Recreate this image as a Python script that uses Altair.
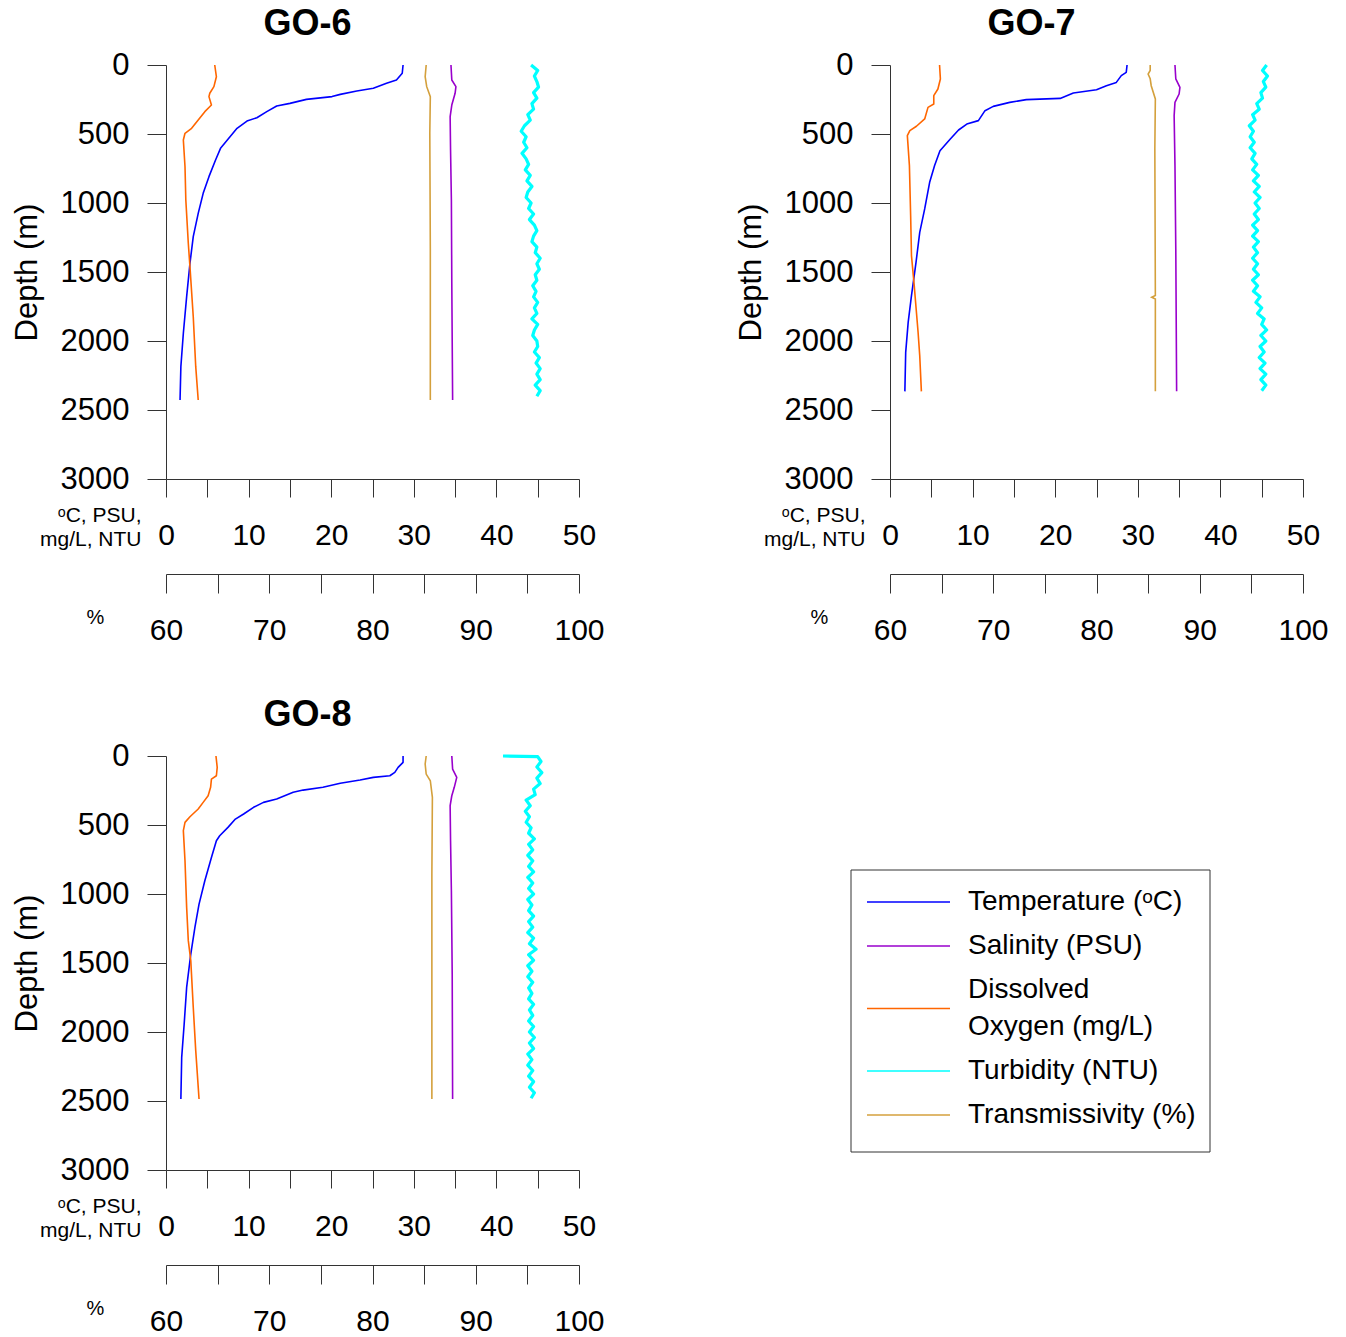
import altair as alt
import pandas as pd

FONT = "Liberation Sans"

TEMP = "Temperature (ᵒC)"
SAL = "Salinity (PSU)"
OXY = "Dissolved Oxygen (mg/L)"
TURB = "Turbidity (NTU)"
TRANS = "Transmissivity (%)"
SERIES = [TEMP, SAL, OXY, TURB, TRANS]
COLORS = ["#0000FF", "#9900CC", "#FF6600", "#00FFFF", "#D4A03C"]
LEGEND_LABELS = [["Temperature (ᵒC)"], ["Salinity (PSU)"], ["Dissolved", "Oxygen (mg/L)"],
                 ["Turbidity (NTU)"], ["Transmissivity (%)"]]

# ---------------- GO-6 ----------------
go6_temp_depth = [0, 60, 109, 133, 169, 188, 213, 229, 249, 278, 297, 338, 382, 406, 459, 538,
                  604, 688, 809, 930, 1075, 1244, 1437, 1679, 1944, 2186, 2428]
go6_temp = [28.7, 28.6, 27.9, 26.7, 25.1, 23.1, 21.1, 20.1, 17.0, 15.0, 13.4, 12.2, 11.0, 9.8, 8.6, 7.5,
            6.6, 6.0, 5.2, 4.5, 3.9, 3.3, 2.9, 2.5, 2.1, 1.8, 1.7]
go6_oxy_depth = [0, 85, 157, 205, 229, 290, 338, 399, 459, 495, 543, 736, 978, 1292, 1461, 1824, 2186, 2428]
go6_oxy = [5.9, 6.1, 5.8, 5.3, 5.2, 5.5, 4.7, 3.9, 3.1, 2.3, 2.1, 2.3, 2.4, 2.7, 2.9, 3.3, 3.6, 3.9]
go6_sal_depth = [0, 109, 157, 205, 290, 374, 616, 978, 1582, 2428]
go6_sal = [34.5, 34.6, 35.1, 35.0, 34.6, 34.4, 34.45, 34.55, 34.6, 34.7]
go6_trans_depth = [0, 85, 157, 229, 495, 1340, 2428]
go6_trans = [85.2, 85.1, 85.25, 85.6, 85.55, 85.6, 85.6]
go6_turb_depth = list(range(0, 2430, 40))
go6_turb = [44.2, 45.0, 44.6, 44.9, 45.1, 44.5, 44.9, 44.3, 44.5, 43.8, 44.1, 43.4, 43.0, 43.6, 43.3, 43.7,
            43.1, 43.6, 43.9, 43.5, 44.1, 43.7, 44.3, 43.8, 43.6, 44.2, 43.9, 44.5, 44.0, 44.6, 44.9, 44.5,
            44.3, 44.9, 44.7, 45.3, 44.9, 45.2, 44.7, 44.9, 44.4, 44.8, 44.5, 45.0, 44.6, 44.9, 44.3, 45.0,
            44.6, 44.4, 44.9, 45.0, 44.6, 45.2, 44.8, 45.3, 44.9, 45.3, 44.7, 45.3, 44.9]

# ---------------- GO-7 ----------------
go7_temp_depth = [0, 53, 77, 126, 150, 179, 203, 242, 251, 271, 300, 331, 403, 428, 471, 536, 621, 729,
                  850, 1043, 1213, 1430, 1671, 1865, 2082, 2365]
go7_temp = [28.7, 28.6, 28.0, 27.4, 26.2, 25.0, 22.2, 20.6, 16.5, 14.5, 12.5, 11.5, 10.7, 9.3, 8.3, 7.3,
            6.05, 5.4, 4.8, 4.2, 3.6, 3.15, 2.6, 2.2, 1.9, 1.8]
go7_oxy_depth = [0, 101, 174, 222, 283, 307, 391, 444, 476, 512, 729, 1092, 1381, 1575, 1937, 2106, 2365]
go7_oxy = [6.0, 6.1, 5.8, 5.3, 5.3, 4.6, 4.2, 3.2, 2.4, 2.1, 2.35, 2.5, 2.6, 2.9, 3.4, 3.6, 3.8]
go7_sal_depth = [0, 101, 162, 210, 271, 367, 729, 1333, 2365]
go7_sal = [34.5, 34.6, 35.1, 35.0, 34.5, 34.4, 34.5, 34.6, 34.7]
go7_trans_depth = [0, 40, 65, 100, 150, 246, 609, 1671, 1683, 1696, 2365]
go7_trans = [85.2, 85.2, 85.0, 85.2, 85.3, 85.7, 85.65, 85.7, 85.35, 85.7, 85.7]
go7_turb_depth = list(range(0, 2370, 40))
go7_turb = [45.6, 45.1, 45.7, 45.2, 45.5, 44.9, 45.1, 44.4, 44.7, 43.9, 44.2, 43.5, 44.0, 43.6, 44.1, 43.6,
            44.2, 43.8, 44.4, 43.9, 44.6, 44.0, 44.7, 44.1, 44.8, 44.2, 44.7, 44.1, 44.6, 43.9, 44.5, 43.9,
            44.6, 44.0, 44.5, 43.9, 44.5, 44.0, 44.6, 43.9, 44.5, 44.0, 44.8, 44.3, 45.0, 44.5, 45.3, 45.0,
            45.6, 44.9, 45.5, 44.8, 45.3, 44.7, 45.4, 44.8, 45.5, 44.9, 45.5, 45.0]

# ---------------- GO-8 ----------------
go8_temp_depth = [0, 46, 82, 119, 143, 155, 174, 198, 227, 247, 263, 312, 336, 372, 420, 457, 517, 578,
                  614, 735, 904, 1073, 1242, 1435, 1677, 1942, 2184, 2486]
go8_temp = [28.7, 28.7, 28.1, 27.7, 27.1, 25.1, 23.5, 21.1, 19.0, 16.6, 15.4, 13.4, 11.8, 10.6, 9.4, 8.4,
            7.5, 6.5, 6.1, 5.5, 4.7, 4.0, 3.5, 3.0, 2.5, 2.2, 1.9, 1.8]
go8_oxy_depth = [0, 82, 143, 167, 227, 288, 336, 384, 440, 481, 541, 759, 1097, 1338, 1483, 1821, 2135, 2486]
go8_oxy = [6.05, 6.2, 6.1, 5.5, 5.4, 5.1, 4.5, 3.9, 2.9, 2.3, 2.1, 2.3, 2.5, 2.7, 3.0, 3.3, 3.6, 4.0]
go8_sal_depth = [0, 95, 155, 227, 288, 360, 614, 976, 1580, 2486]
go8_sal = [34.6, 34.7, 35.2, 34.9, 34.6, 34.4, 34.45, 34.55, 34.65, 34.7]
go8_trans_depth = [0, 58, 131, 179, 300, 855, 2486]
go8_trans = [85.2, 85.1, 85.2, 85.6, 85.8, 85.75, 85.75]
go8_turb_depth = [0, 5] + list(range(40, 2490, 40))
go8_turb = [40.8, 45.0, 45.4, 44.9, 45.5, 44.9, 45.3, 44.5, 44.7, 43.6, 44.1, 43.5, 44.0, 43.6, 44.2, 43.9,
            44.6, 43.9, 44.4, 43.8, 44.4, 43.9, 44.5, 43.8, 44.4, 43.9, 44.5, 43.8, 44.3, 43.9, 44.5, 43.9,
            44.4, 43.8, 44.5, 44.0, 44.8, 43.9, 44.5, 43.8, 44.3, 43.8, 44.4, 43.9, 44.3, 43.9, 44.5, 44.0,
            44.4, 43.9, 44.5, 44.0, 44.6, 44.0, 44.5, 43.8, 44.3, 43.8, 44.4, 43.9, 44.5, 44.0, 44.6, 44.2]

STATIONS = {
    "GO-6": {TEMP: (go6_temp_depth, go6_temp), SAL: (go6_sal_depth, go6_sal),
             OXY: (go6_oxy_depth, go6_oxy), TURB: (go6_turb_depth, go6_turb),
             TRANS: (go6_trans_depth, go6_trans)},
    "GO-7": {TEMP: (go7_temp_depth, go7_temp), SAL: (go7_sal_depth, go7_sal),
             OXY: (go7_oxy_depth, go7_oxy), TURB: (go7_turb_depth, go7_turb),
             TRANS: (go7_trans_depth, go7_trans)},
    "GO-8": {TEMP: (go8_temp_depth, go8_temp), SAL: (go8_sal_depth, go8_sal),
             OXY: (go8_oxy_depth, go8_oxy), TURB: (go8_turb_depth, go8_turb),
             TRANS: (go8_trans_depth, go8_trans)},
}

PANEL_W, PANEL_H = 413, 414
AXIS_COLOR = "#333333"
color_scale = alt.Scale(domain=SERIES, range=COLORS)
depth_scale = alt.Scale(domain=[0, 3000], reverse=True, nice=False, zero=False)

depth_axis = alt.Axis(
    values=list(range(0, 3001, 500)), format="d", grid=False, tickSize=19, labelPadding=18,
    labelFontSize=31, labelFont=FONT, labelColor="black", domainColor=AXIS_COLOR,
    tickColor=AXIS_COLOR, title="Depth (m)", titleFontSize=31, titleFont=FONT,
    titleFontWeight="normal", titleColor="black", titleAngle=270, titleX=-139, titleY=207,
    titleAlign="center", titleBaseline="middle",
)
main_axis = alt.Axis(
    orient="bottom", values=list(range(0, 51, 5)),
    labelExpr="datum.value % 10 === 0 ? datum.label : ''", labelOverlap=False,
    labelFlush=False, grid=False, tickSize=18, labelPadding=23, labelFontSize=30,
    labelFont=FONT, labelColor="black", domainColor=AXIS_COLOR, tickColor=AXIS_COLOR,
    title=["ᵒC, PSU,", "mg/L, NTU"], titleFontSize=21, titleFont=FONT,
    titleFontWeight="normal", titleColor="black", titleAlign="right", titleX=-25,
    titleY=42, titleBaseline="alphabetic", titleLineHeight=24,
)
pct_axis = alt.Axis(
    orient="bottom", offset=95, values=list(range(60, 101, 5)),
    labelExpr="datum.value % 10 === 0 ? datum.label : ''", labelOverlap=False,
    labelFlush=False, grid=False, tickSize=19, labelPadding=22, labelFontSize=30,
    labelFont=FONT, labelColor="black", domainColor=AXIS_COLOR, tickColor=AXIS_COLOR,
    title="%", titleFontSize=20, titleFont=FONT, titleFontWeight="normal",
    titleColor="black", titleAlign="center", titleX=-71, titleY=43,
    titleBaseline="middle",
)


def station_frame(name):
    rows = []
    for series, (depths, values) in STATIONS[name].items():
        for d, v in zip(depths, values):
            rows.append({"series": series, "depth": d, "value": v})
    return pd.DataFrame(rows)


def panel(name):
    df = station_frame(name)
    y = alt.Y("depth:Q", scale=depth_scale, axis=depth_axis)
    color = alt.Color("series:N", scale=color_scale, legend=None)
    profiles = alt.Chart(df[df.series != TRANS]).mark_line(strokeJoin="round").encode(
        x=alt.X("value:Q", scale=alt.Scale(domain=[0, 50], nice=False, zero=False), axis=main_axis),
        y=y,
        color=color,
        order=alt.Order("depth:Q"),
        strokeWidth=alt.condition(alt.datum.series == TURB, alt.value(3.2), alt.value(1.6)),
    )
    trans = alt.Chart(df[df.series == TRANS]).mark_line(strokeWidth=1.6).encode(
        x=alt.X("value:Q", scale=alt.Scale(domain=[60, 100], nice=False, zero=False), axis=pct_axis),
        y=y,
        color=color,
        order=alt.Order("depth:Q"),
    )
    return alt.layer(profiles, trans).resolve_scale(x="independent").properties(
        width=PANEL_W, height=PANEL_H,
        title=alt.TitleParams(name, fontSize=36, fontWeight="bold", font=FONT, color="black",
                              anchor="middle", frame="bounds", offset=6),
    )


# Legend box in the empty fourth cell, laid out in pixel units of that cell.
BOX_LEFT, BOX_RIGHT, BOX_TOP = -39, 320, 114
PAD_TOP, PAD_BOTTOM = 10, 15
ROW_H, LINE_H = 44, 37
SAMPLE_X0, SAMPLE_X1, TEXT_X = -23, 60, 78

entry_rows, text_rows = [], []
cursor = BOX_TOP + PAD_TOP
for series, lines in zip(SERIES, LEGEND_LABELS):
    h = ROW_H + LINE_H * (len(lines) - 1)
    center = cursor + h / 2
    entry_rows.append({"series": series, "x0": SAMPLE_X0, "x1": SAMPLE_X1, "y": center})
    for k, line in enumerate(lines):
        text_rows.append({"label": line, "x": TEXT_X,
                          "y": center + (k - (len(lines) - 1) / 2) * LINE_H})
    cursor += h
box_df = pd.DataFrame([{"x0": BOX_LEFT, "x1": BOX_RIGHT, "y0": BOX_TOP, "y1": cursor + PAD_BOTTOM}])
entry_df = pd.DataFrame(entry_rows)
text_df = pd.DataFrame(text_rows)

px_x = alt.Scale(domain=[0, PANEL_W], nice=False, zero=False)
px_y = alt.Scale(domain=[0, PANEL_H], nice=False, zero=False, reverse=True)

legend_box = alt.Chart(box_df).mark_rect(fill="white", stroke="#333333", strokeWidth=1).encode(
    x=alt.X("x0:Q", scale=px_x, axis=None), x2="x1:Q",
    y=alt.Y("y0:Q", scale=px_y, axis=None), y2="y1:Q",
)
legend_samples = alt.Chart(entry_df).mark_rule(strokeWidth=1.4).encode(
    x=alt.X("x0:Q", scale=px_x, axis=None), x2="x1:Q",
    y=alt.Y("y:Q", scale=px_y, axis=None),
    color=alt.Color("series:N", scale=color_scale, legend=None),
)
legend_text = alt.Chart(text_df).mark_text(
    align="left", baseline="middle", fontSize=28, font=FONT, color="black"
).encode(
    x=alt.X("x:Q", scale=px_x, axis=None),
    y=alt.Y("y:Q", scale=px_y, axis=None),
    text="label:N",
)
legend_cell = alt.layer(legend_box, legend_samples, legend_text).properties(
    width=PANEL_W, height=PANEL_H
)

chart = alt.concat(
    panel("GO-6"), panel("GO-7"), panel("GO-8"), legend_cell,
    columns=2, spacing={"row": 277, "column": 311}, bounds="flush",
).resolve_scale(color="independent").properties(
    padding={"left": 11, "top": 6, "right": 5, "bottom": 0},
).configure(font=FONT).configure_view(stroke="transparent", strokeWidth=0)

chart.save("out.html", embed_options={"renderer": "svg", "actions": False})
